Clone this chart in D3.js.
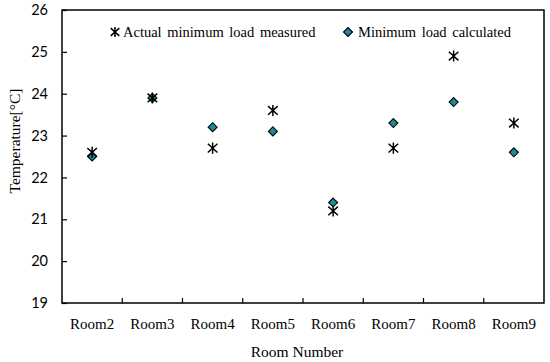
<!DOCTYPE html>
<html lang="en">
<head>
  <meta charset="UTF-8">
  <title>Room Temperature</title>
  <script src="https://d3js.org/d3.v7.min.js"></script>
  <style>
    body { margin: 0; background: #fff; }
    .ytick text { font-family: Lato, "Open Sans", sans-serif; font-size: 14.5px; fill: #000; }
    .xtick text { font-family: "Liberation Serif", serif; font-size: 15px; fill: #000; }
    .title { font-family: "Liberation Serif", serif; font-size: 15.5px; fill: #000; }
    .legend text { font-family: "Liberation Serif", serif; font-size: 14.5px; word-spacing: 2px; fill: #000; }
  </style>
</head>
<body>
  <div id="chart"></div>
  <script>
    const rooms = ["Room2", "Room3", "Room4", "Room5", "Room6", "Room7", "Room8", "Room9"];
    const measured = [22.6, 23.9, 22.7, 23.6, 21.2, 22.7, 24.9, 23.3];
    const calculated = [22.5, 23.9, 23.2, 23.1, 21.4, 23.3, 23.8, 22.6];
    const yTicks = [19, 20, 21, 22, 23, 24, 25, 26];

    const margin = { top: 10, right: 6, bottom: 59, left: 62 };
    const width = 550 - margin.left - margin.right;
    const height = 362 - margin.top - margin.bottom;

    const svg = d3.select("#chart").append("svg")
      .attr("width", 550)
      .attr("height", 362)
      .append("g")
      .attr("transform", `translate(${margin.left},${margin.top})`);

    const x = d3.scaleBand().domain(rooms).range([0, width]);
    const y = d3.scaleLinear().domain([19, 26]).range([height, 0]);

    // frame
    svg.append("rect")
      .attr("width", width).attr("height", height)
      .attr("fill", "none").attr("stroke", "#000").attr("stroke-width", 1.5);

    // y axis, ticks inside
    const yAxis = svg.append("g")
      .attr("class", "ytick")
      .call(d3.axisLeft(y).tickValues(yTicks).tickSize(-5).tickPadding(14).tickFormat(d3.format("d")));
    yAxis.select(".domain").remove();
    yAxis.selectAll("line").attr("stroke", "#000").attr("stroke-width", 1.2);

    // x axis: ticks at band boundaries
    const xAxis = svg.append("g")
      .attr("class", "xtick")
      .attr("transform", `translate(0,${height})`)
      .call(d3.axisBottom(x).tickSize(0).tickPadding(18));
    xAxis.select(".domain").remove();
    xAxis.selectAll(".tick text").attr("dy", "0.55em");

    svg.append("g")
      .selectAll("line")
      .data(rooms.slice(1))
      .join("line")
      .attr("x1", d => x(d)).attr("x2", d => x(d))
      .attr("y1", height).attr("y2", height - 5)
      .attr("stroke", "#000").attr("stroke-width", 1.2);

    const star = (g, s) => {
      g.append("path")
        .attr("d", `M${-s},${-s * 0.9}L${s},${s * 0.9}M${-s},${s * 0.9}L${s},${-s * 0.9}M0,${-s * 1.15}L0,${s * 1.15}`)
        .attr("stroke", "#000").attr("stroke-width", 1.5).attr("fill", "none");
    };
    const diamond = (g, s) => {
      g.append("path")
        .attr("d", `M0,${-s}L${s},0L0,${s}L${-s},0Z`)
        .attr("fill", "#1c8a9a").attr("stroke", "#000").attr("stroke-width", 1.1);
    };

    // calculated (diamonds)
    rooms.forEach((r, i) => {
      const g = svg.append("g")
        .attr("transform", `translate(${x(r) + x.bandwidth() / 2},${y(calculated[i])})`);
      diamond(g, 4.5);
    });

    // measured (stars)
    rooms.forEach((r, i) => {
      const g = svg.append("g")
        .attr("transform", `translate(${x(r) + x.bandwidth() / 2},${y(measured[i])})`);
      star(g, 4.8);
    });

    // legend
    const legend = svg.append("g").attr("class", "legend");
    const l1 = legend.append("g").attr("transform", `translate(${115 - margin.left},${32 - margin.top})`);
    star(l1, 4.3);
    l1.append("text").attr("x", 8).attr("y", 5).text("Actual minimum load measured");
    const l2 = legend.append("g").attr("transform", `translate(${348 - margin.left},${32 - margin.top})`);
    diamond(l2, 4.5);
    l2.append("text").attr("x", 10).attr("y", 5).text("Minimum load calculated");

    // axis titles
    svg.append("text")
      .attr("class", "title")
      .attr("x", 297 - margin.left)
      .attr("y", 357 - margin.top)
      .attr("text-anchor", "middle")
      .text("Room Number");

    svg.append("text")
      .attr("class", "title")
      .attr("transform", "rotate(-90)")
      .attr("x", -(141 - margin.top))
      .attr("y", 20 - margin.left)
      .attr("text-anchor", "middle")
      .text("Temperature[°C]");
  </script>
</body>
</html>
